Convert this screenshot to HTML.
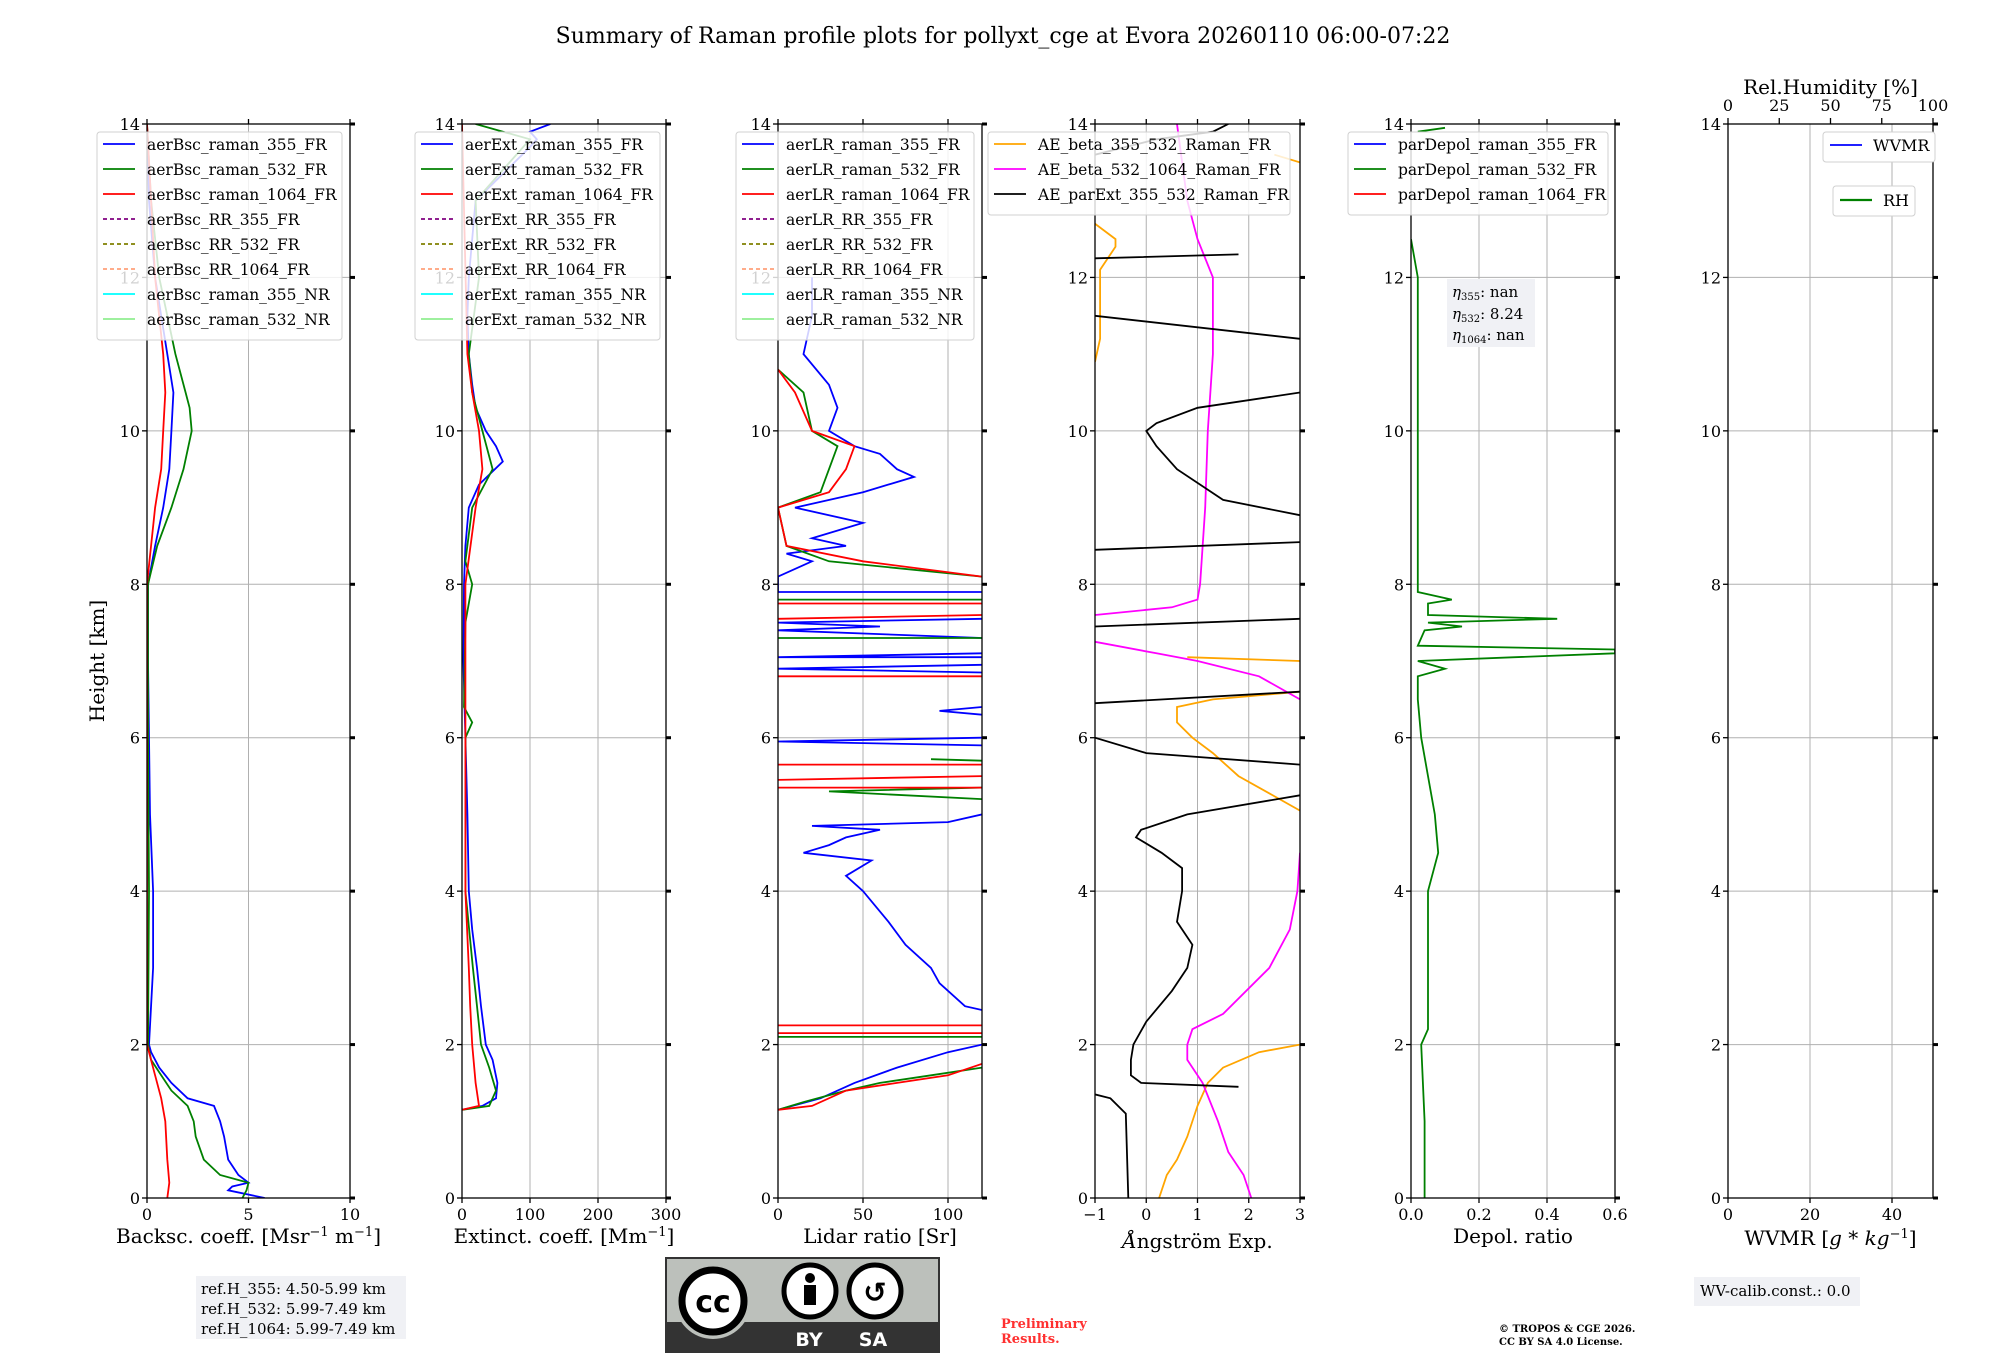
<!DOCTYPE html>
<html><head><meta charset="utf-8">
<style>
html,body{margin:0;padding:0;background:#fff;}
svg{display:block;font-family:"DejaVu Serif","Liberation Serif",serif;}
</style></head>
<body>
<svg id="fig" xmlns="http://www.w3.org/2000/svg" width="2000" height="1360" viewBox="0 0 2000 1360">
<text x="1003" y="43" font-size="22" text-anchor="middle">Summary of Raman profile plots for pollyxt_cge at Evora 20260110 06:00-07:22</text>
<g id="plots"></g>
<g id="overlay"></g>
</svg>
<script>
// ---- data (height km, value) ----
const yTicks=[0,2,4,6,8,10,12,14];
const bsc355=[[0,5.8],[0.1,4.0],[0.15,4.2],[0.2,5.0],[0.3,4.5],[0.5,4.0],[0.8,3.8],[1.0,3.6],[1.2,3.3],[1.3,2.0],[1.5,1.2],[1.7,0.6],[1.9,0.2],[2.0,0.1],[3,0.3],[4,0.3],[5,0.15],[6,0.1],[7,0.05],[8,0.05],[8.5,0.4],[9,0.8],[9.5,1.1],[10,1.2],[10.5,1.3],[11,1.0],[11.5,0.7],[12,0.4],[13,0.1],[14,0]];
const bsc532=[[0,4.7],[0.1,4.9],[0.2,5.0],[0.3,3.6],[0.5,2.8],[0.8,2.4],[1.0,2.3],[1.2,2.0],[1.4,1.2],[1.6,0.7],[1.8,0.2],[2,0.05],[4,0.1],[6,0.05],[8,0.05],[8.5,0.5],[9,1.2],[9.5,1.8],[10,2.2],[10.3,2.1],[10.5,1.9],[11,1.4],[11.5,1.0],[12,0.6],[13,0.2],[14,0]];
const bsc1064=[[0,1.0],[0.2,1.1],[0.5,1.0],[1.0,0.9],[1.3,0.7],[1.6,0.4],[1.9,0.1],[2,0],[8,0],[9,0.4],[9.5,0.7],[10,0.8],[10.5,0.9],[11,0.8],[12,0.4],[13,0.2],[14,0]];
const ext355=[[1.15,0],[1.2,30],[1.3,50],[1.5,52],[1.8,45],[2,35],[2.5,28],[3,22],[3.5,15],[4,10],[5,8],[6,5],[7,2],[8,3],[8.5,5],[9,10],[9.3,25],[9.6,60],[9.8,50],[10,35],[10.3,20],[10.6,15],[11,10],[11.5,8],[12,10],[13,20],[13.7,100],[13.8,110],[13.9,100],[14,130]];
const ext532=[[1.15,0],[1.2,40],[1.4,50],[1.7,40],[2,28],[2.5,22],[3,16],[4,5],[6,5],[6.2,15],[6.4,3],[7.5,5],[8,15],[8.3,5],[9,15],[9.5,45],[10,30],[10.5,15],[11,10],[12,25],[13,20],[13.8,100],[14,20]];
const ext1064=[[1.15,0],[1.2,25],[1.5,20],[2,15],[2.5,12],[3,10],[4,5],[8,5],[9,20],[9.5,30],[10,25],[10.5,15],[11,8],[14,0]];
const lr355=[[1.15,0],[1.3,25],[1.5,45],[1.7,70],[1.9,100],[2.0,120],[null,null],[2.45,120],[2.5,110],[2.8,95],[3,90],[3.3,75],[3.6,65],[4,50],[4.2,40],[4.4,55],[4.5,15],[4.6,30],[4.7,40],[4.8,60],[4.85,20],[4.9,100],[5.0,120],[null,null],[5.9,120],[5.95,0],[6.0,120],[null,null],[6.3,120],[6.35,95],[6.4,120],[null,null],[6.85,120],[6.9,0],[6.95,120],[null,null],[7.05,120],[7.05,0],[7.1,120],[null,null],[7.3,120],[7.4,0],[7.45,60],[7.5,0],[7.55,120],[null,null],[7.9,120],[7.9,0],[8.1,0],[8.3,20],[8.4,5],[8.5,40],[8.6,20],[8.8,50],[9.0,10],[9.2,50],[9.4,80],[9.5,70],[9.7,60],[9.8,45],[10,30],[10.3,35],[10.6,30],[11,15],[11.5,20],[12,20]];
const lr532=[[1.15,0],[1.25,15],[1.4,40],[1.5,60],[1.6,90],[1.7,120],[null,null],[2.1,0],[2.1,120],[null,null],[5.2,120],[5.3,30],[5.35,120],[null,null],[5.7,120],[5.72,90],[null,null],[7.3,0],[7.3,120],[null,null],[7.8,0],[7.8,120],[null,null],[8.1,120],[8.3,30],[8.5,5],[9,0],[9.2,25],[9.5,30],[9.8,35],[10,20],[10.5,15],[10.8,0]];
const lr1064=[[1.15,0],[1.2,20],[1.4,40],[1.5,70],[1.6,100],[1.75,120],[null,null],[2.15,0],[2.15,120],[null,null],[2.25,0],[2.25,120],[null,null],[5.35,0],[5.35,120],[null,null],[5.45,0],[5.5,120],[null,null],[5.65,0],[5.65,120],[null,null],[6.8,0],[6.8,120],[null,null],[7.55,0],[7.6,120],[null,null],[7.75,0],[7.75,120],[null,null],[8.1,120],[8.3,50],[8.5,5],[9,0],[9.2,30],[9.5,40],[9.8,45],[10,20],[10.5,10],[10.8,0]];
const aeB355=[[0,0.25],[0.3,0.4],[0.5,0.6],[0.8,0.8],[1.2,1.0],[1.5,1.2],[1.7,1.5],[1.9,2.2],[2.0,3.0],[null,null],[5.05,3],[5.5,1.8],[5.8,1.3],[6.0,0.9],[6.2,0.6],[6.4,0.6],[6.5,1.3],[6.6,3],[null,null],[7.0,3],[7.05,0.8],[null,null],[10.9,-1],[11.2,-0.9],[11.6,-0.9],[12.1,-0.9],[12.4,-0.6],[12.5,-0.6],[12.7,-1],[null,null],[13.5,3],[13.6,2.5]];
const aeB532=[[0,2.05],[0.3,1.9],[0.6,1.6],[1.0,1.4],[1.5,1.1],[1.8,0.8],[2.0,0.8],[2.2,0.9],[2.4,1.5],[3.0,2.4],[3.5,2.8],[4.0,2.95],[4.5,3],[null,null],[6.5,3],[6.8,2.2],[7.0,1.0],[7.1,0.2],[7.25,-1],[null,null],[7.6,-1],[7.7,0.5],[7.8,1.0],[8,1.05],[9,1.15],[10,1.2],[11,1.3],[12,1.3],[12.5,1.0],[13,0.8],[13.5,0.7],[14,0.6]];
const aeExt=[[0,-0.35],[1.1,-0.4],[1.3,-0.7],[1.35,-1],[null,null],[1.45,1.8],[1.5,-0.1],[1.6,-0.3],[1.8,-0.3],[2.0,-0.25],[2.3,0],[2.7,0.5],[3.0,0.8],[3.3,0.9],[3.6,0.6],[4,0.7],[4.3,0.7],[4.5,0.3],[4.7,-0.2],[4.8,-0.1],[5.0,0.8],[5.25,3.0],[null,null],[5.65,3],[5.8,0],[6.0,-1],[null,null],[6.45,-1],[6.6,3],[null,null],[7.45,-1],[7.55,3],[null,null],[8.45,-1],[8.55,3],[null,null],[8.9,3],[9.1,1.5],[9.5,0.6],[9.8,0.2],[10,0],[10.1,0.2],[10.3,1.0],[10.5,3],[null,null],[11.2,3],[11.5,-1],[null,null],[12.25,-1],[12.3,1.8],[null,null],[13.6,-1],[13.8,0.2],[13.9,1.3],[14,1.6]];
const dep532=[[0,0.04],[1,0.04],[2,0.03],[2.2,0.05],[3,0.05],[4,0.05],[4.5,0.08],[5,0.07],[5.5,0.05],[6,0.03],[6.5,0.02],[6.8,0.02],[6.9,0.1],[7.0,0.02],[7.1,0.6],[7.15,0.6],[7.2,0.02],[7.4,0.04],[7.45,0.15],[7.5,0.05],[7.55,0.43],[7.6,0.05],[7.75,0.05],[7.8,0.12],[7.9,0.02],[8,0.02],[12,0.02],[12.5,0.0],[null,null],[13.9,0.02],[13.95,0.1]];
const P=[
 {name:'backscatter',x0:147,x1:350,xmin:0,xmax:10,ticks:[0,5,10],labels:['0','5','10'],grid:[5],xl:'Backsc. coeff. [Msr<tspan baseline-shift="super" font-size="13">−1</tspan> m<tspan baseline-shift="super" font-size="13">−1</tspan>]',xly:1243,
  series:[[bsc355,'#0000ff'],[bsc532,'#008000'],[bsc1064,'#ff0000']],
  legend:{dx:-50,y:132,w:245,items:[['aerBsc_raman_355_FR','#0000ff',0],['aerBsc_raman_532_FR','#008000',0],['aerBsc_raman_1064_FR','#ff0000',0],['aerBsc_RR_355_FR','#800080',1],['aerBsc_RR_532_FR','#808000',1],['aerBsc_RR_1064_FR','#ffa07a',1],['aerBsc_raman_355_NR','#00ffff',0],['aerBsc_raman_532_NR','#90ee90',0]]}},
 {name:'extinction',x0:462,x1:666,xmin:0,xmax:300,ticks:[0,100,200,300],labels:['0','100','200','300'],grid:[100,200],xl:'Extinct. coeff. [Mm<tspan baseline-shift="super" font-size="13">−1</tspan>]',xly:1243,
  series:[[ext355,'#0000ff'],[ext532,'#008000'],[ext1064,'#ff0000']],
  legend:{dx:-47,y:132,w:245,items:[['aerExt_raman_355_FR','#0000ff',0],['aerExt_raman_532_FR','#008000',0],['aerExt_raman_1064_FR','#ff0000',0],['aerExt_RR_355_FR','#800080',1],['aerExt_RR_532_FR','#808000',1],['aerExt_RR_1064_FR','#ffa07a',1],['aerExt_raman_355_NR','#00ffff',0],['aerExt_raman_532_NR','#90ee90',0]]}},
 {name:'lidar-ratio',x0:778,x1:982,xmin:0,xmax:120,ticks:[0,50,100],labels:['0','50','100'],grid:[50,100],xl:'Lidar ratio [Sr]',xly:1243,
  series:[[lr355,'#0000ff'],[lr532,'#008000'],[lr1064,'#ff0000']],
  legend:{dx:-42,y:132,w:238,items:[['aerLR_raman_355_FR','#0000ff',0],['aerLR_raman_532_FR','#008000',0],['aerLR_raman_1064_FR','#ff0000',0],['aerLR_RR_355_FR','#800080',1],['aerLR_RR_532_FR','#808000',1],['aerLR_RR_1064_FR','#ffa07a',1],['aerLR_raman_355_NR','#00ffff',0],['aerLR_raman_532_NR','#90ee90',0]]}},
 {name:'angstrom',x0:1095,x1:1300,xmin:-1,xmax:3,ticks:[-1,0,1,2,3],labels:['−1','0','1','2','3'],grid:[0,1,2],xl:'<tspan font-style="italic">Å</tspan>ngström Exp.',xly:1248,
  series:[[aeB355,'#ffa500'],[aeB532,'#ff00ff'],[aeExt,'#000000']],
  legend:{dx:-107,y:132,w:302,items:[['AE_beta_355_532_Raman_FR','#ffa500',0],['AE_beta_532_1064_Raman_FR','#ff00ff',0],['AE_parExt_355_532_Raman_FR','#000000',0]]}},
 {name:'depol',x0:1411,x1:1615,xmin:0,xmax:0.6,ticks:[0,0.2,0.4,0.6],labels:['0.0','0.2','0.4','0.6'],grid:[0.2,0.4],xl:'Depol. ratio',xly:1243,
  series:[[dep532,'#008000']],
  legend:{dx:-63,y:132,w:260,items:[['parDepol_raman_355_FR','#0000ff',0],['parDepol_raman_532_FR','#008000',0],['parDepol_raman_1064_FR','#ff0000',0]]}},
 {name:'wvmr',x0:1728,x1:1933,xmin:0,xmax:50,ticks:[0,20,40],labels:['0','20','40'],grid:[20,40],xl:'WVMR [<tspan font-style="italic">g</tspan> * <tspan font-style="italic">kg</tspan><tspan baseline-shift="super" font-size="13">−1</tspan>]',xly:1245,
  series:[],legend:null}
];
const TOP=124,BOT=1198,YMAX=14;
const NS='http://www.w3.org/2000/svg';
const g=document.getElementById('plots');
function el(tag,attrs,parent){const e=document.createElementNS(NS,tag);for(const k in attrs)e.setAttribute(k,attrs[k]);(parent||g).appendChild(e);return e;}
function yS(h){return BOT-(h/YMAX)*(BOT-TOP);}
P.forEach(p=>{
 const xS=v=>p.x0+(v-p.xmin)/(p.xmax-p.xmin)*(p.x1-p.x0);
 const pg=el('g',{});
 
 
 yTicks.forEach(t=>{if(t>0&&t<14){const l=el('line',{x1:p.x0,x2:p.x1,y1:yS(t),y2:yS(t),stroke:'#b0b0b0','stroke-width':1},pg);}});
 p.grid.forEach(t=>{const l=el('line',{x1:xS(t),x2:xS(t),y1:TOP,y2:BOT,stroke:'#b0b0b0','stroke-width':1},pg);});
 const clip=el('clipPath',{id:'c'+p.name},pg);el('rect',{x:p.x0,y:TOP,width:p.x1-p.x0,height:BOT-TOP},clip);
 p.series.forEach(([d,c],i)=>{
  let s='',pen=false;
  d.forEach(([h,v])=>{if(h===null){pen=false;return;}s+=(pen?'L':'M')+xS(v).toFixed(1)+' '+yS(h).toFixed(1)+' ';pen=true;});
  const path=el('path',{d:s,fill:'none',stroke:c,'stroke-width':1.8,'clip-path':'url(#c'+p.name+')'},pg);
  
  
 });
 const fr=el('rect',{x:p.x0,y:TOP,width:p.x1-p.x0,height:BOT-TOP,fill:'none',stroke:'#000','stroke-width':1.3},pg);
 
 yTicks.forEach(t=>{
  el('line',{x1:p.x0-5,x2:p.x0,y1:yS(t),y2:yS(t),stroke:'#000','stroke-width':1.3},pg);
  el('line',{x1:p.x1,x2:p.x1+5,y1:yS(t),y2:yS(t),stroke:'#000','stroke-width':3},pg);
  const tx=el('text',{x:p.x0-7,y:yS(t)+6,'font-size':16,'text-anchor':'end'},pg);tx.textContent=t;
  
 });
 p.ticks.forEach((t,i)=>{
  el('line',{x1:xS(t),x2:xS(t),y1:BOT,y2:BOT+5,stroke:'#000','stroke-width':1.3},pg);
  if(p.name!=='wvmr')el('line',{x1:xS(t),x2:xS(t),y1:TOP-5,y2:TOP,stroke:'#000','stroke-width':1.3},pg);
  const tx=el('text',{x:xS(t),y:BOT+22,'font-size':16,'text-anchor':'middle'},pg);tx.textContent=p.labels[i];
  
 });
 const xl=el('text',{x:(p.x0+p.x1)/2,y:p.xly,'font-size':20,'text-anchor':'middle'},pg);xl.innerHTML=p.xl;
 
 if(p.legend){const L=p.legend,n=L.items.length,lx=p.x0+L.dx;
  const lg=el('g',{},pg);
  el('rect',{x:lx,y:L.y,width:L.w,height:n*25+8,rx:3,fill:'rgba(255,255,255,0.82)',stroke:'#d0d0d0'},lg);
  L.items.forEach(([lab,c,dash],i)=>{const cy=L.y+17+i*25;
   const ln=el('line',{x1:lx+6,x2:lx+38,y1:cy-5,y2:cy-5,stroke:c,'stroke-width':1.8},lg);if(dash)ln.setAttribute('stroke-dasharray','4 3');
   const t=el('text',{x:lx+50,y:cy+1,'font-size':15.5},lg);t.textContent=lab;
   });
 }
});
(function(){
 const o=g;const x0=1728,x1=1933;const rh=[0,25,50,75,100];
 rh.forEach(v=>{const x=x0+v/100*(x1-x0);el('line',{x1:x,x2:x,y1:TOP-6,y2:TOP,stroke:'#000','stroke-width':1.3},o);
  const t=el('text',{x:x,y:TOP-13,'font-size':16,'text-anchor':'middle'},o);t.textContent=v;});
 const tt=el('text',{x:(x0+x1)/2,y:TOP-30,'font-size':20,'text-anchor':'middle'},o);tt.textContent='Rel.Humidity [%]';
 const l1=el('g',{},o);
 el('rect',{x:1823,y:132,width:112,height:30,rx:3,fill:'#fff',stroke:'#d0d0d0'},l1);
 el('line',{x1:1830,x2:1862,y1:145,y2:145,stroke:'#0000ff','stroke-width':1.8},l1);
 const a=el('text',{x:1873,y:151,'font-size':16},l1);a.textContent='WVMR';
 const l2=el('g',{},o);
 el('rect',{x:1833,y:186,width:82,height:30,rx:3,fill:'#fff',stroke:'#d0d0d0'},l2);
 el('line',{x1:1840,x2:1872,y1:200,y2:200,stroke:'#008000','stroke-width':2.2},l2);
 const b=el('text',{x:1883,y:206,'font-size':16},l2);b.textContent='RH';
})();
</script>
<svg style="position:absolute;left:0;top:0" width="2000" height="1360" viewBox="0 0 2000 1360">
<text transform="translate(104,661) rotate(-90)" font-size="20" text-anchor="middle" font-family="DejaVu Serif, serif">Height [km]</text>
<g font-family="DejaVu Serif, serif" font-size="15" transform="translate(-8,0)">
<rect x="1455" y="279" width="88" height="68" fill="#f0f1f5"/>
<text x="1460" y="297"><tspan font-style="italic">η</tspan><tspan font-size="10" dy="3">355</tspan><tspan dy="-3">: nan</tspan></text>
<text x="1460" y="319"><tspan font-style="italic">η</tspan><tspan font-size="10" dy="3">532</tspan><tspan dy="-3">: 8.24</tspan></text>
<text x="1460" y="340"><tspan font-style="italic">η</tspan><tspan font-size="10" dy="3">1064</tspan><tspan dy="-3">: nan</tspan></text>
</g>
<g font-family="DejaVu Serif, serif" font-size="15" transform="translate(0,-8)">
<rect x="196" y="1284" width="210" height="63" fill="#f0f1f5"/>
<text x="201" y="1302">ref.H_355: 4.50-5.99 km</text>
<text x="201" y="1322">ref.H_532: 5.99-7.49 km</text>
<text x="201" y="1342">ref.H_1064: 5.99-7.49 km</text>
</g>
<g font-family="DejaVu Serif, serif" font-size="15" transform="translate(-9,-3)">
<rect x="1703" y="1280" width="166" height="29" fill="#f0f1f5"/>
<text x="1709" y="1299">WV-calib.const.: 0.0</text>
</g>
<g transform="translate(-2,-6)">
<rect x="668" y="1264" width="273" height="94" fill="#bcc0bb" stroke="#333" stroke-width="2"/>
<rect x="668" y="1328" width="273" height="30" fill="#333"/>
<circle cx="715" cy="1307" r="38" fill="#bcc0bb"/>
<circle cx="715" cy="1307" r="31" fill="#fff" stroke="#000" stroke-width="7"/>
<text x="715" y="1318" font-family="DejaVu Sans, sans-serif" font-weight="bold" font-size="30" text-anchor="middle">cc</text>
<circle cx="812" cy="1297" r="26" fill="#fff" stroke="#000" stroke-width="5"/>
<circle cx="812" cy="1284" r="5" fill="#000"/><rect x="806" y="1291" width="12" height="20" fill="#000"/>
<circle cx="877" cy="1297" r="26" fill="#fff" stroke="#000" stroke-width="5"/>
<text x="877" y="1308" font-family="DejaVu Sans, sans-serif" font-weight="bold" font-size="28" text-anchor="middle">↺</text>
<text x="811" y="1352" fill="#fff" font-family="DejaVu Sans, sans-serif" font-weight="bold" font-size="19" text-anchor="middle">BY</text>
<text x="875" y="1352" fill="#fff" font-family="DejaVu Sans, sans-serif" font-weight="bold" font-size="19" text-anchor="middle">SA</text>
</g>
<g font-family="DejaVu Serif, serif" font-size="13" font-weight="bold" fill="#ff3030" transform="translate(-5,-6)">
<text x="1006" y="1334">Preliminary</text><text x="1006" y="1349">Results.</text>
</g>
<g font-family="DejaVu Serif, serif" font-size="10" font-weight="bold" transform="translate(-8,-6)">
<text x="1507" y="1338">© TROPOS &amp; CGE 2026.</text><text x="1507" y="1351">CC BY SA 4.0 License.</text>
</g>
</svg>
</body></html>
